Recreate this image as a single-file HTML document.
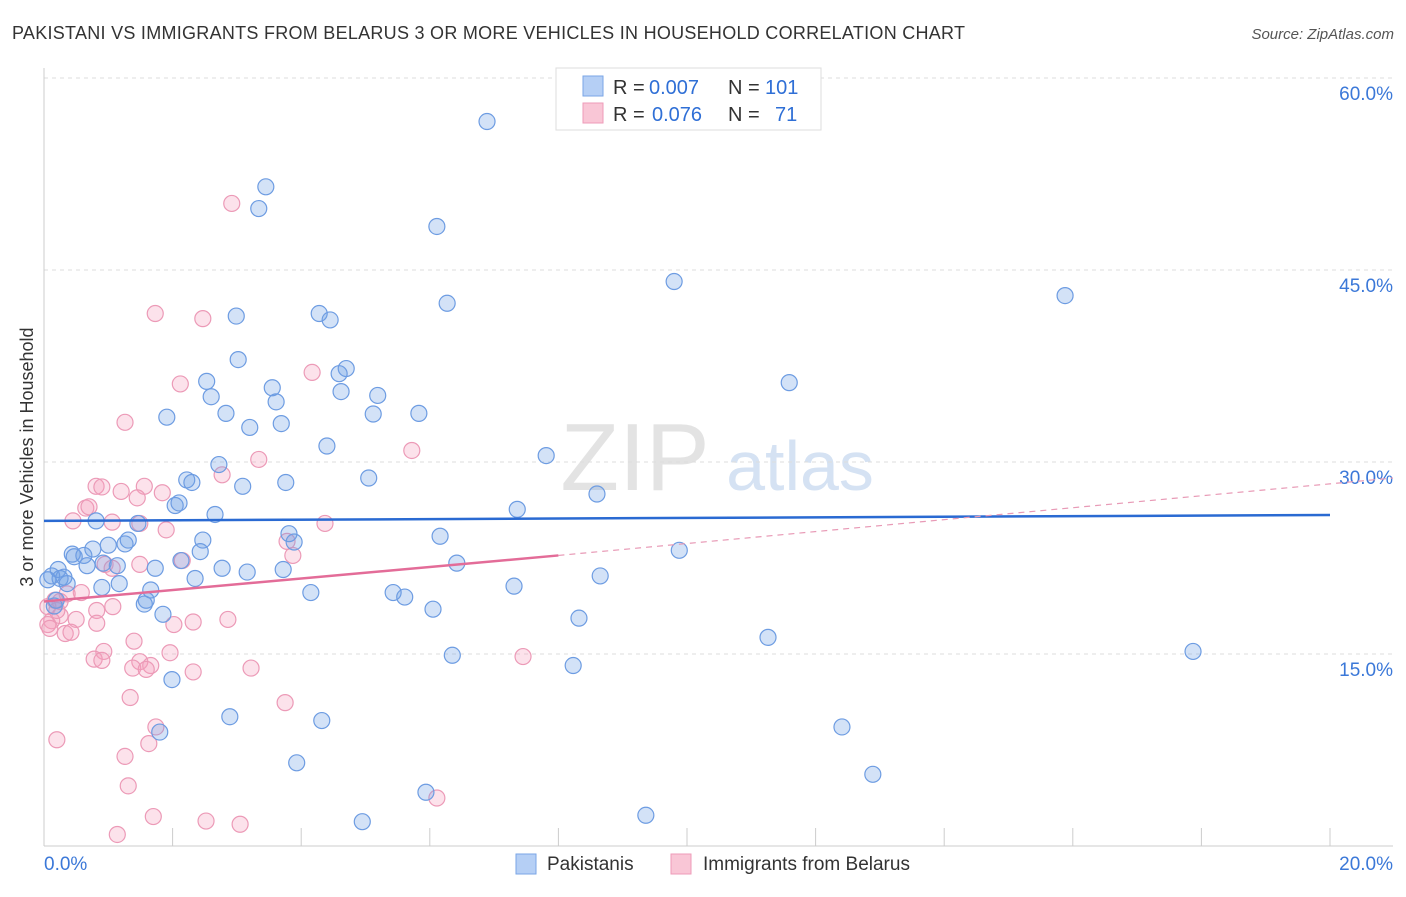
<!DOCTYPE html>
<html><head><meta charset="utf-8"><style>
body{margin:0;background:#fff;font-family:"Liberation Sans",sans-serif;}
svg text{font-family:"Liberation Sans",sans-serif;}
</style></head><body>
<svg id="chart" width="1406" height="892">
<text x="12" y="39" font-size="18" fill="#333" textLength="953">PAKISTANI VS IMMIGRANTS FROM BELARUS 3 OR MORE VEHICLES IN HOUSEHOLD CORRELATION CHART</text>
<text x="1394" y="39" font-size="15" fill="#555" font-style="italic" text-anchor="end">Source: ZipAtlas.com</text>
<text x="635" y="490" font-size="96" fill="#e3e3e3" font-family="Liberation Serif" text-anchor="middle">ZIP</text>
<text x="800" y="490" font-size="70" fill="#d5e2f3" text-anchor="middle">atlas</text>
<text transform="translate(33,457) rotate(-90)" font-size="18" fill="#333" text-anchor="middle">3 or more Vehicles in Household</text>
<g id="grid"></g><g id="marks"></g><g id="lines"></g>
<g>
<rect x="556" y="68" width="265" height="62" fill="#fff" stroke="#ddd"/>
<rect x="583" y="76" width="20" height="20" fill="#b5cff5" stroke="#7aa6e6"/>
<rect x="583" y="103" width="20" height="20" fill="#f9c6d6" stroke="#ee9bb8"/>
<text x="613" y="94" font-size="20" fill="#333">R =</text>
<text x="649" y="94" font-size="20" fill="#2f6fd6">0.007</text>
<text x="728" y="94" font-size="20" fill="#333">N =</text>
<text x="765" y="94" font-size="20" fill="#2f6fd6">101</text>
<text x="613" y="121" font-size="20" fill="#333">R =</text>
<text x="652" y="121" font-size="20" fill="#2f6fd6">0.076</text>
<text x="728" y="121" font-size="20" fill="#333">N =</text>
<text x="775" y="121" font-size="20" fill="#2f6fd6">71</text>
</g>
<g>
<rect x="516" y="854" width="20" height="20" fill="#b5cff5" stroke="#7aa6e6"/>
<text x="547" y="870" font-size="19" fill="#333">Pakistanis</text>
<rect x="671" y="854" width="20" height="20" fill="#f9c6d6" stroke="#ee9bb8"/>
<text x="703" y="870" font-size="19" fill="#333">Immigrants from Belarus</text>
</g>
</svg>
<script>
const blueX=[6.89,3.45,3.34,6.11,9.80,15.88,6.27,2.99,4.28,4.45,3.02,4.70,4.59,2.53,3.55,4.62,11.59,5.19,2.60,3.61,2.83,5.12,5.83,1.91,3.20,3.69,4.40,7.81,2.72,5.05,2.22,2.30,3.09,3.76,8.60,2.04,2.10,0.81,2.66,7.36,1.46,3.81,6.16,1.31,3.89,1.26,2.47,1.00,0.76,2.43,0.44,0.47,0.62,9.88,2.13,6.42,0.67,0.92,0.22,1.14,2.77,3.16,3.72,1.73,8.65,0.31,0.25,0.12,2.35,0.06,1.17,0.36,0.90,1.66,7.31,5.43,5.61,4.15,1.59,1.56,6.05,0.16,1.85,8.32,11.26,6.35,8.23,1.99,2.89,4.32,12.41,1.80,3.93,12.89,5.94,9.36,4.95,17.87,0.19];
const blueY=[56.6,51.5,49.8,48.4,44.1,43.0,42.4,41.4,41.6,41.1,38.0,37.3,36.9,36.3,35.8,35.5,36.2,35.2,35.1,34.7,33.8,33.75,33.8,33.5,32.7,33.0,31.25,30.5,29.8,28.75,28.6,28.4,28.1,28.4,27.5,26.6,26.8,25.4,25.9,26.3,25.2,24.4,24.2,23.9,23.75,23.6,23.9,23.5,23.2,23.0,22.8,22.6,22.7,23.1,22.3,22.1,21.9,22.1,21.6,21.9,21.7,21.4,21.6,21.7,21.1,21.0,20.9,21.1,20.9,20.8,20.5,20.5,20.2,20.0,20.3,19.8,19.45,19.8,19.2,18.9,18.5,18.75,18.1,17.8,16.3,14.9,14.1,13.0,10.1,9.8,9.3,8.9,6.5,5.6,4.2,2.4,1.9,15.2,19.2];
const pinkX=[2.92,1.73,2.47,2.12,4.17,1.26,3.34,5.72,0.81,0.90,1.56,1.20,1.84,1.45,2.77,0.65,0.70,1.06,0.45,1.49,1.90,4.37,3.78,2.15,3.87,0.95,1.49,1.06,0.58,0.36,0.25,0.06,0.82,0.25,0.50,0.12,0.06,0.09,1.07,0.33,0.42,0.82,2.02,2.32,2.86,1.40,0.93,0.78,0.90,1.49,1.96,1.66,1.38,1.59,2.32,3.22,1.34,3.75,1.74,0.20,1.63,1.26,1.31,6.11,1.70,2.52,3.05,1.14,7.45,0.20,0.17];
const pinkY=[50.2,41.6,41.2,36.1,37.0,33.1,30.2,30.9,28.1,28.05,28.1,27.7,27.6,27.2,29.0,26.4,26.5,25.3,25.4,25.2,24.7,25.2,23.8,22.3,22.7,22.0,22.0,21.7,19.8,19.7,19.1,18.7,18.4,18.0,17.7,17.6,17.3,17.0,18.7,16.6,16.7,17.4,17.3,17.5,17.7,16.0,15.2,14.6,14.5,14.4,15.1,14.1,13.9,13.8,13.6,13.9,11.6,11.2,9.3,8.3,8.0,7.0,4.7,3.75,2.3,1.95,1.7,0.9,14.8,18.4,19.2];
const yTicks=[15,30,45,60];
const xTickVals=[0,2,4,6,8,10,12,14,16,18,20];
const blueTrend=[25.4,25.86];
const pinkTrend=[19.1,22.7,28.75];
const NS='http://www.w3.org/2000/svg';
const sx=v=>44+v*64.3, sy=v=>846-v*12.8;
function mk(tag,attrs,parent){const e=document.createElementNS(NS,tag);for(const k in attrs)e.setAttribute(k,attrs[k]);parent.appendChild(e);return e;}
const grid=document.getElementById('grid'),marks=document.getElementById('marks'),lines=document.getElementById('lines');
yTicks.forEach(t=>{
 const l=mk('line',{x1:44,x2:1393,y1:sy(t),y2:sy(t),stroke:'#ddd','stroke-dasharray':'4,4'},grid);
 
 
 const tx=mk('text',{x:1393,y:sy(t)+22,'font-size':19,fill:'#3b78d8','text-anchor':'end'},grid);
 tx.textContent=t.toFixed(1)+'%';
 
 
});
mk('line',{x1:44,x2:44,y1:68,y2:846,stroke:'#ccc'},grid);
mk('line',{x1:44,x2:1393,y1:846,y2:846,stroke:'#ccc'},grid);
xTickVals.forEach(t=>{
 const l=mk('line',{x1:sx(t),x2:sx(t),y1:828,y2:846,stroke:'#ccc'},grid);
 
 
});
[[0,'start'],[20,'end']].forEach(([t,a])=>{
 const tx=mk('text',{x:t==0?44:1393,y:870,'font-size':19,fill:'#3b78d8','text-anchor':a},grid);
 tx.textContent=t.toFixed(1)+'%';
 
 
});
pinkX.forEach((x,i)=>{
 const c=mk('circle',{cx:sx(x),cy:sy(pinkY[i]),r:8,fill:'rgba(244,160,190,0.3)',stroke:'#ec9ab7','stroke-width':1.2},marks);
 
 
});
blueX.forEach((x,i)=>{
 const c=mk('circle',{cx:sx(x),cy:sy(blueY[i]),r:8,fill:'rgba(110,160,230,0.3)',stroke:'#6d9ce2','stroke-width':1.2},marks);
 
 
});
const bl=mk('line',{x1:sx(0),y1:sy(blueTrend[0]),x2:sx(20),y2:sy(blueTrend[1]),stroke:'#2a6ad2','stroke-width':2.5},lines);


const pl=mk('line',{x1:sx(0),y1:sy(pinkTrend[0]),x2:sx(8),y2:sy(pinkTrend[1]),stroke:'#e36c98','stroke-width':2.5},lines);


const pd=mk('line',{x1:sx(8),y1:sy(pinkTrend[1]),x2:1393,y2:sy(pinkTrend[2]),stroke:'#e89ab6','stroke-width':1.2,'stroke-dasharray':'6,5'},lines);


</script>
</body></html>
